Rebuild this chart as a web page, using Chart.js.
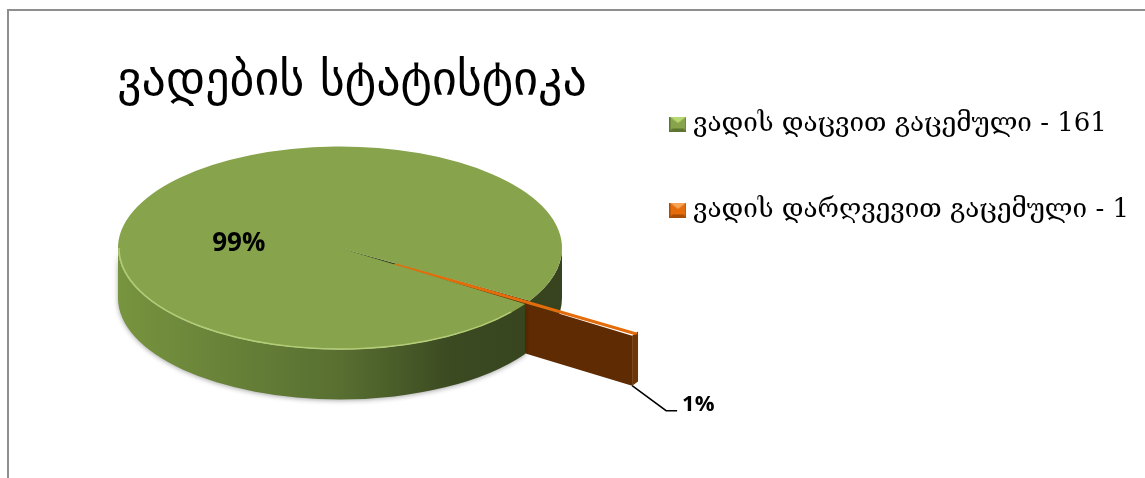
<!DOCTYPE html>
<html>
<head>
<meta charset="utf-8">
<script src="https://cdn.jsdelivr.net/npm/chart.js@4.4.0/dist/chart.umd.min.js"></script>
<style>
  html, body { margin: 0; padding: 0; background: #fff; overflow: hidden; }
  #frame { position: absolute; left: 7px; top: 9px; width: 1170px; height: 500px; border: 2px solid #8e8e8e; box-sizing: border-box; }
  #wrap { position: absolute; left: 0; top: 0; width: 1145px; height: 478px; }
</style>
</head>
<body>
<div id="frame"></div>
<div id="wrap"><canvas id="chart" width="1145" height="478"></canvas></div>
<script>
// data
const chartTitle = 'ვადების სტატისტიკა';
const categories = ['ვადის დაცვით გაცემული', 'ვადის დარღვევით გაცემული'];
const counts = [161, 1];

// look
const topColors = ['#87a34c', '#e46c0a'];
const legendColors = [['#b8d873', '#87a34c', '#5d7530'], ['#f7a55a', '#e46c0a', '#a94c05']];
const explode = [0, 260];
const CX = 340, CY = 248, TILT = 0.457, DEPTH = 50;

function bevelBox(c) {
  const w = 17, h = 15;
  const cv = document.createElement('canvas');
  cv.width = w; cv.height = h;
  const g = cv.getContext('2d');
  g.fillStyle = c[1]; g.fillRect(0, 0, w, h);
  g.fillStyle = c[0];
  g.beginPath(); g.moveTo(0, 0); g.lineTo(w, 0); g.lineTo(w / 2, 6.5); g.closePath(); g.fill();
  g.fillStyle = c[2];
  g.beginPath(); g.moveTo(0, h); g.lineTo(w, h); g.lineTo(w - 3, h - 3); g.lineTo(3, h - 3); g.closePath(); g.fill();
  g.fillRect(0, 0, 1, h); g.fillRect(w - 1, 0, 1, h);
  return cv;
}

// sector geometry exactly as the arc element draws it (offset/4 shift)
function sector(arc) {
  const p = arc.getProps(['x', 'y', 'startAngle', 'endAngle', 'outerRadius', 'circumference'], true);
  const off = (arc.options.offset || 0) / 4;
  const mid = (p.startAngle + p.endAngle) / 2;
  const fix = 1 - Math.sin(Math.min(Math.PI, p.circumference || 0));
  return { x: p.x + Math.cos(mid) * off, y: p.y + Math.sin(mid) * off,
           r: p.outerRadius + off * fix, s: p.startAngle, e: p.endAngle };
}

function projector(chart) {
  const a = chart.getDatasetMeta(0).data[0];
  return (x, y, z) => [CX + (x - a.x), CY + (y - a.y) * TILT + z];
}

const pie3d = {
  id: 'pie3d',
  beforeDatasetsDraw(chart) {
    const ctx = chart.ctx;
    const arcs = chart.getDatasetMeta(0).data;
    const ax = arcs[0].x, ay = arcs[0].y;
    const P = projector(chart);
    const secs = arcs.map(sector);

    function wall(sc, a1, a2, fill) {
      const c = P(sc.x, sc.y, 0);
      ctx.beginPath();
      ctx.ellipse(c[0], c[1], sc.r, sc.r * TILT, 0, a1, a2, false);
      ctx.ellipse(c[0], c[1] + DEPTH, sc.r, sc.r * TILT, 0, a2, a1, true);
      ctx.closePath();
      ctx.fillStyle = fill;
      ctx.fill();
    }
    function face(sc, a, fill) {
      const c = P(sc.x, sc.y, 0);
      const e = P(sc.x + Math.cos(a) * sc.r, sc.y + Math.sin(a) * sc.r, 0);
      ctx.beginPath();
      ctx.moveTo(c[0], c[1]); ctx.lineTo(e[0], e[1]);
      ctx.lineTo(e[0], e[1] + DEPTH); ctx.lineTo(c[0], c[1] + DEPTH);
      ctx.closePath();
      ctx.fillStyle = fill;
      ctx.fill();
    }
    function top(arc) {
      ctx.save();
      ctx.translate(CX, CY);
      ctx.scale(1, TILT);
      ctx.translate(-ax, -ay);
      arc.draw(ctx);
      ctx.restore();
    }
    const TAU = Math.PI * 2;
    const g = secs[0], o = secs[1];
    const grad = ctx.createLinearGradient(CX - g.r, 0, CX + g.r, 0);
    grad.addColorStop(0, '#77943f');
    grad.addColorStop(0.5, '#586f31');
    grad.addColorStop(0.75, '#3b4a21');
    grad.addColorStop(1, '#36431e');

    // back part of the big slice rim (after wrap-around)
    wall(g, TAU, g.e, grad);
    face(g, g.e - TAU, '#33401c');
    // exploded slice
    wall(o, o.s, o.e, '#6e3606');
    face(o, o.e, '#5e2b03');
    top(arcs[1]);
    // front part of the big slice rim
    ctx.save();
    ctx.shadowColor = 'rgba(0,0,0,0.35)';
    ctx.shadowBlur = 5;
    ctx.shadowOffsetY = 1;
    wall(g, g.s, Math.PI, grad);
    ctx.restore();
    top(arcs[0]);
    // light front edge of the top face
    const c = P(g.x, g.y, 0);
    ctx.beginPath();
    ctx.ellipse(c[0], c[1], g.r - 1, (g.r - 1) * TILT, 0, g.s + 0.1, Math.PI, false);
    ctx.strokeStyle = 'rgba(190,215,130,0.8)';
    ctx.lineWidth = 1.5;
    ctx.stroke();
    return false;
  },
  afterDraw(chart) {
    const ctx = chart.ctx;
    const arcs = chart.getDatasetMeta(0).data;
    const P = projector(chart);
    const total = counts.reduce((a, b) => a + b, 0);
    const pct = counts.map(v => Math.round(v / total * 100) + '%');
    ctx.save();
    ctx.fillStyle = '#000';
    // inside label
    const g = sector(arcs[0]);
    const gm = (g.s + g.e) / 2;
    const lp = P(g.x + Math.cos(gm) * g.r * 0.54, g.y + Math.sin(gm) * g.r * 0.54, DEPTH / 2);
    ctx.font = 'bold 26px "Open Sans"';
    ctx.textAlign = 'center';
    ctx.textBaseline = 'middle';
    ctx.fillText(pct[0], lp[0], lp[1]);
    // outside label with leader line
    const o = sector(arcs[1]);
    const sp = P(o.x + Math.cos(o.e) * o.r, o.y + Math.sin(o.e) * o.r, DEPTH);
    ctx.beginPath();
    ctx.moveTo(sp[0], sp[1]);
    ctx.lineTo(sp[0] + 34, sp[1] + 25);
    ctx.lineTo(sp[0] + 45, sp[1] + 25);
    ctx.strokeStyle = '#000';
    ctx.lineWidth = 1.5;
    ctx.stroke();
    ctx.font = 'bold 22px "Open Sans"';
    ctx.textAlign = 'left';
    ctx.textBaseline = 'alphabetic';
    ctx.fillText(pct[1], sp[0] + 50, sp[1] + 25);
    ctx.restore();
  }
};

new Chart(document.getElementById('chart'), {
  type: 'pie',
  data: {
    labels: categories,
    datasets: [{
      data: counts,
      backgroundColor: topColors,
      borderColor: topColors,
      borderWidth: [0, 6],
      offset: explode,
      hoverOffset: 0,
      radius: 222
    }]
  },
  options: {
    responsive: false,
    devicePixelRatio: 1,
    animation: false,
    rotation: 123.5,
    layout: { padding: { top: 51, left: 117, right: 6, bottom: 0 } },
    plugins: {
      tooltip: { enabled: false },
      title: {
        display: true,
        text: chartTitle,
        align: 'start',
        fullSize: false,
        color: '#000',
        font: { family: '"DejaVu Sans"', size: 48, weight: 'normal' },
        padding: { top: 3, bottom: 0 }
      },
      legend: {
        position: 'right',
        align: 'start',
        fullSize: true,
        maxWidth: 600,
        labels: {
          color: '#000',
          font: { family: '"DejaVu Serif"', size: 26 },
          padding: 60,
          boxWidth: 4,
          boxHeight: 14,
          usePointStyle: true,
          generateLabels: () => categories.map((c, i) => ({
            text: c + ' - ' + counts[i],
            pointStyle: bevelBox(legendColors[i]),
            fillStyle: topColors[i],
            lineWidth: 0,
            hidden: false,
            index: i
          }))
        }
      }
    }
  },
  plugins: [pie3d]
});
</script>
</body>
</html>
